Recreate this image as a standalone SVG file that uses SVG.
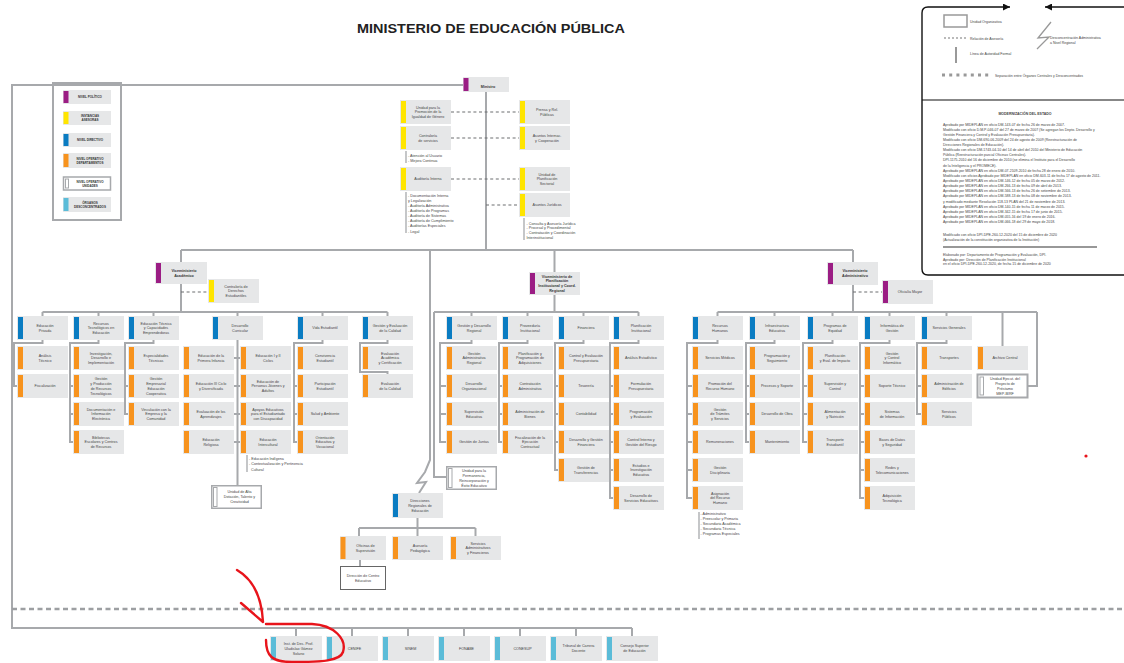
<svg xmlns="http://www.w3.org/2000/svg" xmlns:xlink="http://www.w3.org/1999/xlink" width="1124" height="663" viewBox="0 0 1124 663">
<style>
.b{fill:#e6e7e8}
.P{fill:#9b1d84}.Y{fill:#ffe500}.B{fill:#0a7cc2}.O{fill:#f7931e}.C{fill:#5bbcd8}
.wb{fill:#fff;stroke:#a7a9ac;stroke-width:1.5}
.wi{fill:#fff;stroke:#a7a9ac;stroke-width:1}
.t{font-family:"Liberation Sans",Arial,sans-serif;font-size:3.7px;fill:#444;text-anchor:middle}
.tb{font-weight:bold;fill:#333}
.l{font-family:"Liberation Sans",Arial,sans-serif;font-size:3.7px;fill:#444}
.lg{font-family:"Liberation Sans",Arial,sans-serif;font-size:3.5px;fill:#444}
.lgb{font-family:"Liberation Sans",Arial,sans-serif;font-size:3px;font-weight:bold;fill:#333;text-anchor:middle}
.ln{fill:none;stroke:#a7a9ac;stroke-width:2}
.lt{fill:none;stroke:#a7a9ac;stroke-width:1.3}
.ds{fill:none;stroke:#6d6e71;stroke-width:1.2;stroke-dasharray:3 2.6}
.red{fill:none;stroke:#e8141b;stroke-width:2.4;stroke-linecap:round;stroke-linejoin:round}
</style>
<defs>
<g id="bO"><rect class="b" width="51" height="24"/><rect class="O" x="1" y="1" width="5" height="22"/></g>
<g id="bB"><rect class="b" width="51" height="24"/><rect class="B" x="1" y="1" width="5" height="22"/></g>
<g id="bY"><rect class="b" width="51" height="24"/><rect class="Y" x="1" y="1" width="5" height="22"/></g>
<g id="bP"><rect class="b" width="51" height="24"/><rect class="P" x="1" y="1" width="5" height="22"/></g>
<g id="bC"><rect class="b" width="52" height="25"/><rect class="C" x="1" y="1" width="5" height="23"/></g>
<g id="bW"><rect class="wb" x="0.75" y="0.75" width="49.5" height="22.5"/><rect class="wi" x="2.5" y="2.5" width="3.5" height="19"/></g>
<marker id="ah" viewBox="0 0 10 10" refX="10" refY="5" markerWidth="5" markerHeight="5" orient="auto-start-reverse"><path d="M0,0L10,5L0,10z" fill="#111"/></marker>
</defs>

<text x="491" y="33" font-family="'Liberation Sans',Arial,sans-serif" font-size="12" font-weight="bold" fill="#222" text-anchor="middle" textLength="268" lengthAdjust="spacingAndGlyphs">MINISTERIO DE EDUCACIÓN PÚBLICA</text>

<g id="legend-left">
<rect x="53" y="83" width="68" height="137" fill="#fff" stroke="#a7a9ac" stroke-width="2"/>
<rect class="b" x="63" y="90" width="48" height="14"/><rect class="P" x="63.5" y="91" width="5" height="12"/>
<text class="lgb" x="90" y="98">NIVEL POLÍTICO</text>
<rect class="b" x="63" y="111" width="48" height="14"/><rect class="Y" x="63.5" y="112" width="5" height="12"/>
<text class="lgb" x="90" y="117">INSTANCIAS</text><text class="lgb" x="90" y="121">ASESORAS</text>
<rect class="b" x="63" y="133" width="48" height="14"/><rect class="B" x="63.5" y="134" width="5" height="12"/>
<text class="lgb" x="90" y="141">NIVEL DIRECTIVO</text>
<rect class="b" x="63" y="153" width="48" height="15"/><rect class="O" x="63.5" y="154" width="5" height="13"/>
<text class="lgb" x="90" y="159.5">NIVEL OPERATIVO</text><text class="lgb" x="90" y="163.5">DEPARTAMENTOS</text>
<rect x="63.5" y="177" width="47" height="13" fill="#fff" stroke="#a7a9ac" stroke-width="1.5"/><rect class="wi" x="65.5" y="179" width="3" height="9"/>
<text class="lgb" x="90" y="182.5">NIVEL OPERATIVO</text><text class="lgb" x="90" y="186.5">UNIDADES</text>
<rect class="b" x="63" y="197" width="48" height="15"/><rect class="C" x="63.5" y="198" width="5" height="13"/>
<text class="lgb" x="90" y="203.5">ÓRGANOS</text><text class="lgb" x="90" y="207.5">DESCONCENTRADOS</text>
</g>

<g id="legend-right">
<path d="M1010,7H928Q922,7 922,13V269Q922,275 928,275H1124" fill="none" stroke="#111" stroke-width="1.4" marker-start="url(#ah)"/>
<path d="M1124,7H1045" fill="none" stroke="#111" stroke-width="1.4" marker-end="url(#ah)"/>
<path d="M922,100H1124" stroke="#111" stroke-width="1.2"/>
<rect x="944" y="15" width="23" height="12" fill="none" stroke="#999" stroke-width="1.5"/>
<text class="lg" x="970" y="22.5">Unidad Organizativa</text>
<path d="M944,38H967" fill="none" stroke="#777" stroke-width="1.2" stroke-dasharray="2 2"/>
<text class="lg" x="970" y="39.5">Relación de Asesoría</text>
<path d="M956,47V63" stroke="#999" stroke-width="2"/>
<text class="lg" x="970" y="54.5">Línea de Autoridad Formal</text>
<path d="M1051,22L1038,38L1049,37L1037,49" fill="none" stroke="#999" stroke-width="1.3"/>
<text class="lg" x="1050" y="38.5">Desconcentración Administrativa</text>
<text class="lg" x="1050" y="43.5">a Nivel Regional</text>
<path d="M942,75H992" stroke="#999" stroke-width="3" stroke-dasharray="3 4.2"/>
<text class="lg" x="995" y="76.5">Separación entre Órganos Centrales y Desconcentrados</text>
<text class="lg" x="1025" y="115" text-anchor="middle" font-weight="bold" font-size="3.8">MODERNIZACIÓN DEL ESTADO</text>
<g class="lg">
<text x="943" y="125.5">Aprobado por MIDEPLAN en oficio DM-143-07 de fecha 26 de marzo de 2007.</text>
<text x="943" y="130.6">Modificado con oficio D.M.P-046-07 del 27 de marzo de 2007 (Se agregan los Depto. Desarrollo y</text>
<text x="943" y="135.8">Gestión Financiera y Control y Evaluación Presupuestaria).</text>
<text x="943" y="140.9">Modificado con oficio DM-690-06-2009 del 24 de agosto de 2009 (Reestructuración de</text>
<text x="943" y="146.0">Direcciones Regionales de Educación).</text>
<text x="943" y="151.2">Modificado con oficio DM-1743-04-10 del 14 de abril del 2010 del Ministerio de Educación</text>
<text x="943" y="156.3">Pública (Reestructuración parcial Oficinas Centrales).</text>
<text x="943" y="161.4">DPI-1175-2010 del 16 de diciembre de 2010 (se elimina el Instituto para el Desarrollo</text>
<text x="943" y="166.6">de la Inteligencia y el PROMECE).</text>
<text x="943" y="171.7">Aprobado por MIDEPLAN en oficio DM-07-2109-2010 de fecha 28 de enero de 2010.</text>
<text x="943" y="176.8">Modificado con oficios Aprobado por MIDEPLAN en oficio DM-603-11 de fecha 17 de agosto de 2011.</text>
<text x="943" y="182.0">Aprobado por MIDEPLAN en oficio DM-146-12 de fecha 05 de marzo de 2012.</text>
<text x="943" y="187.1">Aprobado por MIDEPLAN en oficio DM-266-13 de fecha 09 de abril de 2013.</text>
<text x="943" y="192.2">Aprobado por MIDEPLAN en oficio DM-566-13 de fecha 26 de setiembre de 2013.</text>
<text x="943" y="197.4">Aprobado por MIDEPLAN en oficio DM-588-13 de fecha 08 de noviembre de 2013.</text>
<text x="943" y="202.5">y modificado mediante Resolución 118-13 PLAN del 21 de noviembre de 2013.</text>
<text x="943" y="207.6">Aprobado por MIDEPLAN en oficio DM-140-15 de fecha 11 de marzo de 2015.</text>
<text x="943" y="212.8">Aprobado por MIDEPLAN en oficio DM-342-15 de fecha 17 de junio de 2015.</text>
<text x="943" y="217.9">Aprobado por MIDEPLAN en oficio DM-055-16 del 19 de enero de 2016.</text>
<text x="943" y="223.0">Aprobado por MIDEPLAN en oficio DM-066-18 del 29 de mayo de 2018.</text>
<text x="943" y="236.3">Modificado con oficio DPI-DPE-260-12-2020 del 15 de diciembre de 2020</text>
<text x="943" y="241.3">(Actualización de la constitución organizativa de la Institución)</text>
<text x="943" y="255.5">Elaborado por: Departamento de Programación y Evaluación, DPI.</text>
<text x="943" y="260.5">Aprobado por: Dirección de Planificación Institucional</text>
<text x="943" y="265.3">en el oficio DPI-DPE-260-12-2020, de fecha 15 de diciembre de 2020</text>
</g>
<path d="M943,247H1097" stroke="#333" stroke-width="1.2"/>
</g>

<g id="connectors">
<path class="ln" d="M463,85H12V628H632"/>
<path class="ln" d="M486,92V250"/>
<path class="ln" d="M181,250H853"/>
<path class="ds" d="M451,112H519M451,138H519M451,179H519M486,205H519"/>
<path class="lt" d="M406,151V163M406,192V233M524,218V240M247,455V472M699,512V539"/>
<path class="ln" d="M181,250V312M42.5,312H387.5M42.5,312V316M98.5,312V316M153.5,312V316M237.5,312V316M322.5,312V316M387.5,312V316"/>
<path class="ds" d="M181,292H208"/>
<path class="ln" d="M42.5,340V343H14V386H17"/>
<path class="ln" d="M98.5,340V343H70V442H73M70,386H73M70,414H73"/>
<path class="ln" d="M153.5,340V343H125V414H128M125,386H128"/>
<path class="ln" d="M237.5,340V485M234,358H240M234,386H240M234,414H240M234,442H240"/>
<path class="ln" d="M322.5,340V343H294V442H297M294,386H297M294,414H297"/>
<path class="ln" d="M387.5,340V343H360V372H387.5V374"/>
<path class="ln" d="M554.5,250V312M434,312H638.5M471.5,312V316M527.5,312V316M583.5,312V316M638.5,312V316"/>
<path class="ln" d="M434,312V477H446"/>
<path class="ln" d="M471.5,340V343H440V442H446M440,386H446M440,414H446"/>
<path class="ln" d="M527.5,340V343H499V442H502M499,386H502M499,414H502"/>
<path class="ln" d="M583.5,340V343H555V470H558M555,386H558M555,414H558M555,442H558"/>
<path class="ln" d="M638.5,340V343H610V498H613M610,386H613M610,414H613M610,442H613M610,470H613"/>
<path class="ln" d="M430,250V460L425,472L417,483L426,482L419,493"/>
<path class="ln" d="M417.5,518V528M359,528H475.5M359,528V536M417.5,528V536M475.5,528V536M360,560V566"/>
<path class="ln" d="M853,250V312M717.5,312H1037M717.5,312V316M774.5,312V316M832.5,312V316M889.5,312V316M946.5,312V316M1002.5,312V346M1037,312V386H1028"/>
<path class="ds" d="M853,292H882"/>
<path class="ln" d="M717.5,340V343H687V498H692M687,386H692M687,414H692M687,442H692M687,470H692"/>
<path class="ln" d="M774.5,340V343H746V442H749M746,386H749M746,414H749"/>
<path class="ln" d="M832.5,340V343H803V442H807M803,386H807M803,414H807"/>
<path class="ln" d="M889.5,340V343H860V498H864M860,386H864M860,414H864M860,442H864M860,470H864"/>
<path class="ln" d="M946.5,340V343H917V414H921M917,386H921"/>
<path d="M12,609H1124" fill="none" stroke="#9d9fa2" stroke-width="2.5" stroke-dasharray="5 3.5"/>
<path class="ln" d="M296,628V636M352,628V636M408,628V636M464,628V636M520,628V636M576,628V636M632,628V636"/>
</g>

<g id="n-ministro"><rect class="b" x="463" y="77" width="46" height="15"/><rect class="P" x="463.5" y="78" width="5" height="13"/><text class="t tb" x="488" y="87.5" font-size="7">Ministro</text></g>

<g id="n-genero" transform="translate(400,100)"><use href="#bY"/><text class="t"><tspan x="28" y="8.5">Unidad para la</tspan><tspan x="28" y="13.3">Promoción de la</tspan><tspan x="28" y="18.1">Igualdad de Género</tspan></text></g>
<g id="n-contraloria" transform="translate(400,126)"><use href="#bY"/><text class="t"><tspan x="28" y="10.9">Contraloría</tspan><tspan x="28" y="15.7">de servicios</tspan></text></g>
<g id="n-contraloria-list" class="l"><text x="408" y="157.3">- Atención al Usuario</text><text x="408" y="162.3">- Mejora Continua</text></g>
<g id="n-auditoria" transform="translate(400,167)"><use href="#bY"/><text class="t"><tspan x="28" y="13.3">Auditoría Interna</tspan></text></g>
<g id="n-auditoria-list" class="l"><text x="408" y="197">- Documentación Interna</text><text x="408" y="202">y Legalización</text><text x="408" y="207">- Auditoría Administrativa</text><text x="408" y="212">- Auditoría de Programas</text><text x="408" y="217">- Auditoría de Sistemas</text><text x="408" y="222">- Auditoría de Cumplimiento</text><text x="408" y="227">- Auditorías Especiales</text><text x="408" y="232.5">- Legal</text></g>
<g id="n-prensa" transform="translate(519,100)"><use href="#bY"/><text class="t"><tspan x="28" y="10.9">Prensa y Rel.</tspan><tspan x="28" y="15.7">Públicas</tspan></text></g>
<g id="n-internac" transform="translate(519,126)"><use href="#bY"/><text class="t"><tspan x="28" y="10.9">Asuntos Internac.</tspan><tspan x="28" y="15.7">y Cooperación</tspan></text></g>
<g id="n-planif-sectorial" transform="translate(519,167)"><use href="#bY"/><text class="t"><tspan x="28" y="8.5">Unidad de</tspan><tspan x="28" y="13.3">Planificación</tspan><tspan x="28" y="18.1">Sectorial</tspan></text></g>
<g id="n-juridicos" transform="translate(519,193)"><use href="#bY"/><text class="t"><tspan x="28" y="13.3">Asuntos Jurídicos</tspan></text></g>
<g id="n-juridicos-list" class="l"><text x="526.5" y="224.6">- Consulta y Asesoría Jurídica</text><text x="526.5" y="229">- Procesal y Procedimental</text><text x="526.5" y="234.3">- Contratación y Coordinación</text><text x="526.5" y="239">Interinstitucional</text></g>

<g id="n-vice-academico"><rect class="b" x="155" y="262" width="52" height="22"/><rect class="P" x="156" y="263" width="5" height="20"/><text class="t tb" font-size="3.9"><tspan x="184" y="272">Viceministerio</tspan><tspan x="184" y="276.8">Académico</tspan></text></g>
<g id="n-derechos-est" transform="translate(208,279)"><use href="#bY"/><text class="t"><tspan x="28" y="8.5">Contraloría de</tspan><tspan x="28" y="13.3">Derechos</tspan><tspan x="28" y="18.1">Estudiantiles</tspan></text></g>

<g id="n-edprivada" transform="translate(17,316)"><use href="#bB"/><text class="t"><tspan x="28" y="10.9">Educación</tspan><tspan x="28" y="15.7">Privada</tspan></text></g>
<g id="n-rectec" transform="translate(73,316)"><use href="#bB"/><text class="t"><tspan x="28" y="8.5">Recursos</tspan><tspan x="28" y="13.3">Tecnológicos en</tspan><tspan x="28" y="18.1">Educación</tspan></text></g>
<g id="n-edtecnica" transform="translate(128,316)"><use href="#bB"/><text class="t"><tspan x="28" y="8.5">Educación Técnica</tspan><tspan x="28" y="13.3">y Capacidades</tspan><tspan x="28" y="18.1">Emprendedoras</tspan></text></g>
<g id="n-dcurricular" transform="translate(212,316)"><use href="#bB"/><text class="t"><tspan x="28" y="10.9">Desarrollo</tspan><tspan x="28" y="15.7">Curricular</tspan></text></g>
<g id="n-vidaest" transform="translate(297,316)"><use href="#bB"/><text class="t"><tspan x="28" y="13.3">Vida Estudiantil</tspan></text></g>
<g id="n-gestcalidad" transform="translate(362,316)"><use href="#bB"/><text class="t"><tspan x="28" y="10.9">Gestión y Evaluación</tspan><tspan x="28" y="15.7">de la Calidad</tspan></text></g>

<g id="n-analisis-tec" transform="translate(17,346)"><use href="#bO"/><text class="t"><tspan x="28" y="10.9">Análisis</tspan><tspan x="28" y="15.7">Técnico</tspan></text></g>
<g id="n-fiscalizacion" transform="translate(17,374)"><use href="#bO"/><text class="t"><tspan x="28" y="13.3">Fiscalización</tspan></text></g>
<g id="n-investigacion" transform="translate(73,346)"><use href="#bO"/><text class="t"><tspan x="28" y="8.5">Investigación,</tspan><tspan x="28" y="13.3">Desarrollo e</tspan><tspan x="28" y="18.1">Implementación</tspan></text></g>
<g id="n-gest-prod" transform="translate(73,374)"><use href="#bO"/><text class="t"><tspan x="28" y="6.1">Gestión</tspan><tspan x="28" y="10.9">y Producción</tspan><tspan x="28" y="15.7">de Recursos</tspan><tspan x="28" y="20.5">Tecnológicos</tspan></text></g>
<g id="n-documentacion" transform="translate(73,402)"><use href="#bO"/><text class="t"><tspan x="28" y="8.5">Documentación e</tspan><tspan x="28" y="13.3">Información</tspan><tspan x="28" y="18.1">Electrónica</tspan></text></g>
<g id="n-bibliotecas" transform="translate(73,430)"><use href="#bO"/><text class="t"><tspan x="28" y="8.5">Bibliotecas</tspan><tspan x="28" y="13.3">Escolares y Centros</tspan><tspan x="28" y="18.1">de Recursos</tspan></text></g>
<g id="n-especialidades" transform="translate(128,346)"><use href="#bO"/><text class="t"><tspan x="28" y="10.9">Especialidades</tspan><tspan x="28" y="15.7">Técnicas</tspan></text></g>
<g id="n-gest-empresarial" transform="translate(128,374)"><use href="#bO"/><text class="t"><tspan x="28" y="6.1">Gestión</tspan><tspan x="28" y="10.9">Empresarial</tspan><tspan x="28" y="15.7">Educación</tspan><tspan x="28" y="20.5">Cooperativa</tspan></text></g>
<g id="n-vinculacion" transform="translate(128,402)"><use href="#bO"/><text class="t"><tspan x="28" y="8.5">Vinculación con la</tspan><tspan x="28" y="13.3">Empresa y la</tspan><tspan x="28" y="18.1">Comunidad</tspan></text></g>

<g id="n-primera-infancia" transform="translate(183,346)"><use href="#bO"/><text class="t"><tspan x="28" y="10.9">Educación de la</tspan><tspan x="28" y="15.7">Primera Infancia</tspan></text></g>
<g id="n-iii-ciclo" transform="translate(183,374)"><use href="#bO"/><text class="t"><tspan x="28" y="10.9">Educación III Ciclo</tspan><tspan x="28" y="15.7">y Diversificada</tspan></text></g>
<g id="n-eval-aprend" transform="translate(183,402)"><use href="#bO"/><text class="t"><tspan x="28" y="10.9">Evaluación de los</tspan><tspan x="28" y="15.7">Aprendizajes</tspan></text></g>
<g id="n-religiosa" transform="translate(183,430)"><use href="#bO"/><text class="t"><tspan x="28" y="10.9">Educación</tspan><tspan x="28" y="15.7">Religiosa</tspan></text></g>
<g id="n-i-ii-ciclos" transform="translate(240,346)"><use href="#bO"/><text class="t"><tspan x="28" y="10.9">Educación I y II</tspan><tspan x="28" y="15.7">Ciclos</tspan></text></g>
<g id="n-jovenes-adultos" transform="translate(240,374)"><use href="#bO"/><text class="t"><tspan x="28" y="8.5">Educación de</tspan><tspan x="28" y="13.3">Personas Jóvenes y</tspan><tspan x="28" y="18.1">Adultos</tspan></text></g>
<g id="n-apoyos" transform="translate(240,402)"><use href="#bO"/><text class="t"><tspan x="28" y="8.5">Apoyos Educativos</tspan><tspan x="28" y="13.3">para el Estudiantado</tspan><tspan x="28" y="18.1">con Discapacidad</tspan></text></g>
<g id="n-intercultural" transform="translate(240,430)"><use href="#bO"/><text class="t"><tspan x="28" y="10.9">Educación</tspan><tspan x="28" y="15.7">Intercultural</tspan></text></g>
<g id="n-intercultural-list" class="l"><text x="249" y="459.5">- Educación Indígena</text><text x="249" y="465">- Contextualización y Pertinencia</text><text x="251" y="470.5">Cultural</text></g>
<g id="n-alta-dotacion" transform="translate(211,485)"><use href="#bW"/><text class="t"><tspan x="28.5" y="8">Unidad de Alta</tspan><tspan x="28.5" y="12.8">Dotación, Talento y</tspan><tspan x="28.5" y="17.6">Creatividad</tspan></text></g>

<g id="n-convivencia" transform="translate(297,346)"><use href="#bO"/><text class="t"><tspan x="28" y="10.9">Convivencia</tspan><tspan x="28" y="15.7">Estudiantil</tspan></text></g>
<g id="n-participacion" transform="translate(297,374)"><use href="#bO"/><text class="t"><tspan x="28" y="10.9">Participación</tspan><tspan x="28" y="15.7">Estudiantil</tspan></text></g>
<g id="n-salud" transform="translate(297,402)"><use href="#bO"/><text class="t"><tspan x="28" y="13.3">Salud y Ambiente</tspan></text></g>
<g id="n-orientacion" transform="translate(297,430)"><use href="#bO"/><text class="t"><tspan x="28" y="8.5">Orientación</tspan><tspan x="28" y="13.3">Educativa y</tspan><tspan x="28" y="18.1">Vocacional</tspan></text></g>
<g id="n-eval-academica" transform="translate(362,346)"><use href="#bO"/><text class="t"><tspan x="28" y="8.5">Evaluación</tspan><tspan x="28" y="13.3">Académica</tspan><tspan x="28" y="18.1">y Certificación</tspan></text></g>
<g id="n-eval-calidad" transform="translate(362,374)"><use href="#bO"/><text class="t"><tspan x="28" y="10.9">Evaluación</tspan><tspan x="28" y="15.7">de la Calidad</tspan></text></g>

<g id="n-vice-planificacion"><rect class="b" x="529" y="272" width="51" height="23"/><rect class="P" x="530" y="273" width="5" height="21"/><text class="t tb" font-size="3.6"><tspan x="557" y="277.6">Viceministerio de</tspan><tspan x="557" y="282.3">Planificación</tspan><tspan x="557" y="287">Institucional y Coord.</tspan><tspan x="557" y="291.7">Regional</tspan></text></g>
<g id="n-gdr" transform="translate(446,316)"><use href="#bB"/><text class="t"><tspan x="28" y="10.9">Gestión y Desarrollo</tspan><tspan x="28" y="15.7">Regional</tspan></text></g>
<g id="n-proveeduria" transform="translate(502,316)"><use href="#bB"/><text class="t"><tspan x="28" y="10.9">Proveeduría</tspan><tspan x="28" y="15.7">Institucional</tspan></text></g>
<g id="n-financiera" transform="translate(558,316)"><use href="#bB"/><text class="t"><tspan x="28" y="13.3">Financiera</tspan></text></g>
<g id="n-planinst" transform="translate(613,316)"><use href="#bB"/><text class="t"><tspan x="28" y="10.9">Planificación</tspan><tspan x="28" y="15.7">Institucional</tspan></text></g>

<g id="n-gest-adm-reg" transform="translate(446,346)"><use href="#bO"/><text class="t"><tspan x="28" y="8.5">Gestión</tspan><tspan x="28" y="13.3">Administrativa</tspan><tspan x="28" y="18.1">Regional</tspan></text></g>
<g id="n-des-org" transform="translate(446,374)"><use href="#bO"/><text class="t"><tspan x="28" y="10.9">Desarrollo</tspan><tspan x="28" y="15.7">Organizacional</tspan></text></g>
<g id="n-supervision" transform="translate(446,402)"><use href="#bO"/><text class="t"><tspan x="28" y="10.9">Supervisión</tspan><tspan x="28" y="15.7">Educativa</tspan></text></g>
<g id="n-juntas" transform="translate(446,430)"><use href="#bO"/><text class="t"><tspan x="28" y="13.3">Gestión de Juntas</tspan></text></g>
<g id="n-plan-adq" transform="translate(502,346)"><use href="#bO"/><text class="t"><tspan x="28" y="8.5">Planificación y</tspan><tspan x="28" y="13.3">Programación de</tspan><tspan x="28" y="18.1">Adquisiciones</tspan></text></g>
<g id="n-contratacion" transform="translate(502,374)"><use href="#bO"/><text class="t"><tspan x="28" y="10.9">Contratación</tspan><tspan x="28" y="15.7">Administrativa</tspan></text></g>
<g id="n-adm-bienes" transform="translate(502,402)"><use href="#bO"/><text class="t"><tspan x="28" y="10.9">Administración de</tspan><tspan x="28" y="15.7">Bienes</tspan></text></g>
<g id="n-fisc-ejec" transform="translate(502,430)"><use href="#bO"/><text class="t"><tspan x="28" y="8.5">Fiscalización de la</tspan><tspan x="28" y="13.3">Ejecución</tspan><tspan x="28" y="18.1">Contractual</tspan></text></g>
<g id="n-control-pres" transform="translate(558,346)"><use href="#bO"/><text class="t"><tspan x="28" y="10.9">Control y Evaluación</tspan><tspan x="28" y="15.7">Presupuestaria</tspan></text></g>
<g id="n-tesoreria" transform="translate(558,374)"><use href="#bO"/><text class="t"><tspan x="28" y="13.3">Tesorería</tspan></text></g>
<g id="n-contabilidad" transform="translate(558,402)"><use href="#bO"/><text class="t"><tspan x="28" y="13.3">Contabilidad</tspan></text></g>
<g id="n-des-gest-fin" transform="translate(558,430)"><use href="#bO"/><text class="t"><tspan x="28" y="10.9">Desarrollo y Gestión</tspan><tspan x="28" y="15.7">Financiera</tspan></text></g>
<g id="n-transferencias" transform="translate(558,458)"><use href="#bO"/><text class="t"><tspan x="28" y="10.9">Gestión de</tspan><tspan x="28" y="15.7">Transferencias</tspan></text></g>
<g id="n-analisis-est" transform="translate(613,346)"><use href="#bO"/><text class="t"><tspan x="28" y="13.3">Análisis Estadístico</tspan></text></g>
<g id="n-form-pres" transform="translate(613,374)"><use href="#bO"/><text class="t"><tspan x="28" y="10.9">Formulación</tspan><tspan x="28" y="15.7">Presupuestaria</tspan></text></g>
<g id="n-prog-eval" transform="translate(613,402)"><use href="#bO"/><text class="t"><tspan x="28" y="10.9">Programación</tspan><tspan x="28" y="15.7">y Evaluación</tspan></text></g>
<g id="n-control-int" transform="translate(613,430)"><use href="#bO"/><text class="t"><tspan x="28" y="10.9">Control Interno y</tspan><tspan x="28" y="15.7">Gestión del Riesgo</tspan></text></g>
<g id="n-estudios" transform="translate(613,458)"><use href="#bO"/><text class="t"><tspan x="28" y="8.5">Estudios e</tspan><tspan x="28" y="13.3">Investigación</tspan><tspan x="28" y="18.1">Educativa</tspan></text></g>
<g id="n-des-serv" transform="translate(613,486)"><use href="#bO"/><text class="t"><tspan x="28" y="10.9">Desarrollo de</tspan><tspan x="28" y="15.7">Servicios Educativos</tspan></text></g>
<g id="n-permanencia" transform="translate(446,466)"><use href="#bW"/><text class="t"><tspan x="28" y="6.1">Unidad para la</tspan><tspan x="28" y="10.9">Permanencia,</tspan><tspan x="28" y="15.7">Reincorporación y</tspan><tspan x="28" y="20.5">Éxito Educativo</tspan></text></g>

<g id="n-dre"><rect class="b" x="392" y="493" width="51" height="25"/><rect class="B" x="393" y="494" width="5" height="23"/><text class="t"><tspan x="420" y="502">Direcciones</tspan><tspan x="420" y="506.8">Regionales de</tspan><tspan x="420" y="511.6">Educación</tspan></text></g>
<g id="n-of-supervision"><rect class="b" x="340" y="536" width="46" height="24"/><rect class="O" x="340.5" y="537" width="5" height="22"/><text class="t"><tspan x="365.5" y="546.9">Oficinas de</tspan><tspan x="365.5" y="551.7">Supervisión</tspan></text></g>
<g id="n-asesoria-ped" transform="translate(392,536)"><use href="#bO"/><text class="t"><tspan x="28" y="10.9">Asesoría</tspan><tspan x="28" y="15.7">Pedagógica</tspan></text></g>
<g id="n-serv-adm-fin" transform="translate(450,536)"><use href="#bO"/><text class="t"><tspan x="28" y="8.5">Servicios</tspan><tspan x="28" y="13.3">Administrativos</tspan><tspan x="28" y="18.1">y Financieros</tspan></text></g>
<g id="n-centro-educativo"><rect x="340.5" y="566.5" width="45" height="23" fill="#fff" stroke="#666" stroke-width="1"/><text class="t"><tspan x="363" y="576.9">Dirección de Centro</tspan><tspan x="363" y="581.7">Educativo</tspan></text></g>

<g id="n-vice-administrativo"><rect class="b" x="827" y="262" width="51" height="23"/><rect class="P" x="828" y="263" width="5" height="21"/><text class="t tb" font-size="3.8"><tspan x="855" y="272.4">Viceministerio</tspan><tspan x="855" y="277.2">Administrativo</tspan></text></g>
<g id="n-oficialia" transform="translate(882,280)"><use href="#bP"/><text class="t"><tspan x="28" y="13.3">Oficialía Mayor</tspan></text></g>
<g id="n-rrhh" transform="translate(692,316)"><use href="#bB"/><text class="t"><tspan x="28" y="10.9">Recursos</tspan><tspan x="28" y="15.7">Humanos</tspan></text></g>
<g id="n-infra" transform="translate(749,316)"><use href="#bB"/><text class="t"><tspan x="28" y="10.9">Infraestructura</tspan><tspan x="28" y="15.7">Educativa</tspan></text></g>
<g id="n-equidad" transform="translate(807,316)"><use href="#bB"/><text class="t"><tspan x="28" y="10.9">Programas de</tspan><tspan x="28" y="15.7">Equidad</tspan></text></g>
<g id="n-informatica" transform="translate(864,316)"><use href="#bB"/><text class="t"><tspan x="28" y="10.9">Informática de</tspan><tspan x="28" y="15.7">Gestión</tspan></text></g>
<g id="n-servgen" transform="translate(921,316)"><use href="#bB"/><text class="t"><tspan x="28" y="13.3">Servicios Generales</tspan></text></g>

<g id="n-serv-medicos" transform="translate(692,346)"><use href="#bO"/><text class="t"><tspan x="28" y="13.3">Servicios Médicos</tspan></text></g>
<g id="n-promocion-rh" transform="translate(692,374)"><use href="#bO"/><text class="t"><tspan x="28" y="10.9">Promoción del</tspan><tspan x="28" y="15.7">Recurso Humano</tspan></text></g>
<g id="n-tramites" transform="translate(692,402)"><use href="#bO"/><text class="t"><tspan x="28" y="8.5">Gestión</tspan><tspan x="28" y="13.3">de Trámites</tspan><tspan x="28" y="18.1">y Servicios</tspan></text></g>
<g id="n-remuneraciones" transform="translate(692,430)"><use href="#bO"/><text class="t"><tspan x="28" y="13.3">Remuneraciones</tspan></text></g>
<g id="n-disciplinaria" transform="translate(692,458)"><use href="#bO"/><text class="t"><tspan x="28" y="10.9">Gestión</tspan><tspan x="28" y="15.7">Disciplinaria</tspan></text></g>
<g id="n-asignacion" transform="translate(692,486)"><use href="#bO"/><text class="t"><tspan x="28" y="8.5">Asignación</tspan><tspan x="28" y="13.3">del Recurso</tspan><tspan x="28" y="18.1">Humano</tspan></text></g>
<g id="n-asignacion-list" class="l"><text x="700.5" y="515.3">- Administrativo</text><text x="700.5" y="520.3">- Preescolar y Primaria</text><text x="700.5" y="525.3">- Secundaria Académica</text><text x="700.5" y="530">- Secundaria Técnica</text><text x="700.5" y="535.3">- Programas Especiales</text></g>
<g id="n-prog-seg" transform="translate(749,346)"><use href="#bO"/><text class="t"><tspan x="28" y="10.9">Programación y</tspan><tspan x="28" y="15.7">Seguimiento</tspan></text></g>
<g id="n-procesos" transform="translate(749,374)"><use href="#bO"/><text class="t"><tspan x="28" y="13.3">Procesos y Soporte</tspan></text></g>
<g id="n-des-obra" transform="translate(749,402)"><use href="#bO"/><text class="t"><tspan x="28" y="13.3">Desarrollo de Obra</tspan></text></g>
<g id="n-mantenimiento" transform="translate(749,430)"><use href="#bO"/><text class="t"><tspan x="28" y="13.3">Mantenimiento</tspan></text></g>
<g id="n-plan-impacto" transform="translate(807,346)"><use href="#bO"/><text class="t"><tspan x="28" y="10.9">Planificación</tspan><tspan x="28" y="15.7">y Eval. de Impacto</tspan></text></g>
<g id="n-sup-control" transform="translate(807,374)"><use href="#bO"/><text class="t"><tspan x="28" y="10.9">Supervisión y</tspan><tspan x="28" y="15.7">Control</tspan></text></g>
<g id="n-alimentacion" transform="translate(807,402)"><use href="#bO"/><text class="t"><tspan x="28" y="10.9">Alimentación</tspan><tspan x="28" y="15.7">y Nutrición</tspan></text></g>
<g id="n-transp-est" transform="translate(807,430)"><use href="#bO"/><text class="t"><tspan x="28" y="10.9">Transporte</tspan><tspan x="28" y="15.7">Estudiantil</tspan></text></g>
<g id="n-gest-inf" transform="translate(864,346)"><use href="#bO"/><text class="t"><tspan x="28" y="8.5">Gestión</tspan><tspan x="28" y="13.3">y Control</tspan><tspan x="28" y="18.1">Informático</tspan></text></g>
<g id="n-soporte" transform="translate(864,374)"><use href="#bO"/><text class="t"><tspan x="28" y="13.3">Soporte Técnico</tspan></text></g>
<g id="n-sistemas" transform="translate(864,402)"><use href="#bO"/><text class="t"><tspan x="28" y="10.9">Sistemas</tspan><tspan x="28" y="15.7">de Información</tspan></text></g>
<g id="n-bases" transform="translate(864,430)"><use href="#bO"/><text class="t"><tspan x="28" y="10.9">Bases de Datos</tspan><tspan x="28" y="15.7">y Seguridad</tspan></text></g>
<g id="n-redes" transform="translate(864,458)"><use href="#bO"/><text class="t"><tspan x="28" y="10.9">Redes y</tspan><tspan x="28" y="15.7">Telecomunicaciones</tspan></text></g>
<g id="n-adq-tec" transform="translate(864,486)"><use href="#bO"/><text class="t"><tspan x="28" y="10.9">Adquisición</tspan><tspan x="28" y="15.7">Tecnológica</tspan></text></g>
<g id="n-transportes" transform="translate(921,346)"><use href="#bO"/><text class="t"><tspan x="28" y="13.3">Transportes</tspan></text></g>
<g id="n-edificios" transform="translate(921,374)"><use href="#bO"/><text class="t"><tspan x="28" y="10.9">Administración de</tspan><tspan x="28" y="15.7">Edificios</tspan></text></g>
<g id="n-serv-publicos" transform="translate(921,402)"><use href="#bO"/><text class="t"><tspan x="28" y="10.9">Servicios</tspan><tspan x="28" y="15.7">Públicos</tspan></text></g>
<g id="n-archivo" transform="translate(977,346)"><use href="#bO"/><text class="t"><tspan x="28" y="13.3">Archivo Central</tspan></text></g>
<g id="n-ejecutora"><rect x="977.5" y="374.5" width="50" height="23" fill="#fff" stroke="#a7a9ac" stroke-width="2"/><rect class="wi" x="980" y="377" width="3.5" height="18"/><text class="t"><tspan x="1005" y="380.1">Unidad Ejecut. del</tspan><tspan x="1005" y="384.9">Proyecto de</tspan><tspan x="1005" y="389.7">Préstamo</tspan><tspan x="1005" y="394.5">MEP-BIRF</tspan></text></g>

<g id="n-idp" transform="translate(270,636)"><use href="#bC"/><text class="t"><tspan x="28.5" y="9">Inst. de Des. Prof.</tspan><tspan x="28.5" y="13.8">Uladislao Gámez</tspan><tspan x="28.5" y="18.6">Solano</tspan></text></g>
<g id="n-cenife" transform="translate(326,636)"><use href="#bC"/><text class="t"><tspan x="28.5" y="13.8">CENIFE</tspan></text></g>
<g id="n-sinem" transform="translate(382,636)"><use href="#bC"/><text class="t"><tspan x="28.5" y="13.8">SINEM</tspan></text></g>
<g id="n-fonabe" transform="translate(438,636)"><use href="#bC"/><text class="t"><tspan x="28.5" y="13.8">FONABE</tspan></text></g>
<g id="n-conesup" transform="translate(494,636)"><use href="#bC"/><text class="t"><tspan x="28.5" y="13.8">CONESUP</tspan></text></g>
<g id="n-tribunal" transform="translate(550,636)"><use href="#bC"/><text class="t"><tspan x="28.5" y="11.4">Tribunal de Carrera</tspan><tspan x="28.5" y="16.2">Docente</tspan></text></g>
<g id="n-cse" transform="translate(606,636)"><use href="#bC"/><text class="t"><tspan x="28.5" y="11.4">Consejo Superior</tspan><tspan x="28.5" y="16.2">de Educación</tspan></text></g>

<g id="annotation">
<path class="red" d="M237,570Q261,584 263,622M241,603L263,622"/>
<path class="red" d="M266,624H312C334,625 347,639 343,652C340,661 322,662 292,662C272,662 266,656 266,640"/>
<circle cx="1086" cy="456" r="1.6" fill="#e8141b"/>
</g>
</svg>
